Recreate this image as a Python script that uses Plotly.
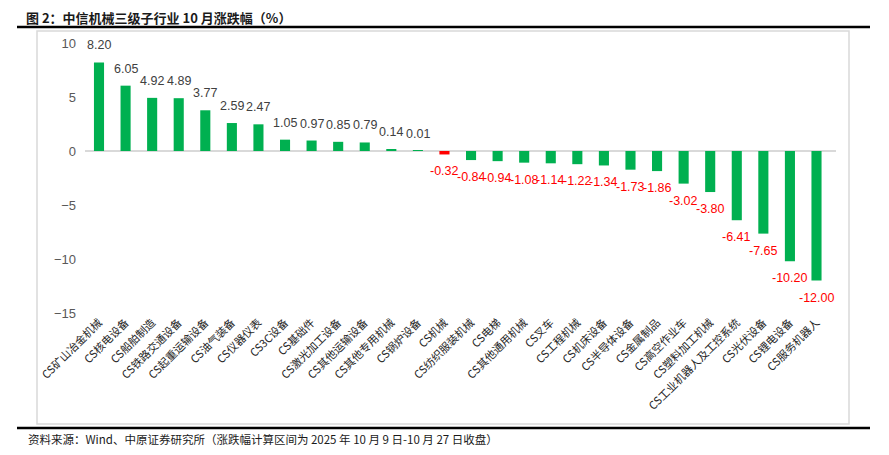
import plotly.graph_objects as go

categories = ["CS矿山冶金机械", "CS核电设备", "CS船舶制造", "CS铁路交通设备", "CS起重运输设备",
              "CS油气装备", "CS仪器仪表", "CS3C设备", "CS基础件", "CS激光加工设备",
              "CS其他运输设备", "CS其他专用机械", "CS锅炉设备", "CS机械", "CS纺织服装机械",
              "CS电梯", "CS其他通用机械", "CS叉车", "CS工程机械", "CS机床设备",
              "CS半导体设备", "CS金属制品", "CS高空作业车", "CS塑料加工机械",
              "CS工业机器人及工控系统", "CS光伏设备", "CS锂电设备", "CS服务机器人"]
values = [8.20, 6.05, 4.92, 4.89, 3.77, 2.59, 2.47, 1.05, 0.97, 0.85,
          0.79, 0.14, 0.01, -0.32, -0.84, -0.94, -1.08, -1.14, -1.22, -1.34,
          -1.73, -1.86, -3.02, -3.80, -6.41, -7.65, -10.20, -12.00]
y_ticks = [-15, -10, -5, 0, 5, 10]

GREEN = "#00B050"
RED = "#FF0000"
bar_colors = [RED if c == "CS机械" else GREEN for c in categories]
text_colors = ["#404040" if v >= 0 else RED for v in values]

# page body has an 8px margin; work in screen pixels and subtract it
OFF = 8
W, H = 889 - 2 * OFF, 455 - 2 * OFF
L, R, T, B = 85 - OFF, 836 - OFF, 43 - OFF, 313 - OFF


def px(x):
    return (x - OFF - L) / (R - L)


def py(y):
    return (B - (y - OFF)) / (B - T)


fig = go.Figure()
fig.add_trace(go.Bar(
    x=categories, y=values,
    marker=dict(color=bar_colors, line=dict(width=0)),
    width=0.38,
    hovertemplate="%{x}: %{y:.2f}<extra></extra>",
))

shapes = [
    dict(type="rect", xref="paper", yref="paper", x0=px(37), x1=px(849), y0=py(31), y1=py(424),
         line=dict(color="#D9D9D9", width=1.5), fillcolor="rgba(0,0,0,0)", layer="below"),
    dict(type="line", xref="paper", yref="paper", x0=px(17), x1=px(870), y0=py(27), y1=py(27),
         line=dict(color="#000000", width=2.5)),
    dict(type="line", xref="paper", yref="paper", x0=px(17), x1=px(870), y0=py(428), y1=py(428),
         line=dict(color="#000000", width=2.5)),
]

annotations = [
    dict(text="<b>图 2：中信机械三级子行业 10 月涨跌幅（%）</b>", xref="paper", yref="paper",
         x=px(24), y=py(17.5), xanchor="left", yanchor="middle", showarrow=False,
         font=dict(size=13, color="#1a1a1a", family="Noto Sans CJK SC")),
    dict(text="资料来源：Wind、中原证券研究所（涨跌幅计算区间为 2025 年 10 月 9 日-10 月 27 日收盘）",
         xref="paper", yref="paper", x=px(26), y=py(439), xanchor="left", yanchor="middle",
         showarrow=False, font=dict(size=11.5, color="#1a1a1a", family="Noto Sans CJK SC")),
]

for c, v, tc in zip(categories, values, text_colors):
    annotations.append(dict(
        x=c, y=v, xref="x", yref="y", text=f"{v:.2f}", showarrow=False,
        xanchor="center", yanchor="middle", yshift=17 if v >= 0 else -17,
        font=dict(size=12.5, color=tc, family="Liberation Sans, Noto Sans CJK SC"),
    ))

fig.update_layout(
    width=W, height=H,
    margin=dict(l=L, r=W - R, t=T, b=H - B, autoexpand=False),
    paper_bgcolor="white", plot_bgcolor="white",
    showlegend=False,
    shapes=shapes, annotations=annotations,
    font=dict(family="Liberation Sans, Noto Sans CJK SC"),
)
fig.update_xaxes(
    tickangle=-45, automargin=False, showgrid=False, showline=False, ticks="",
    tickfont=dict(size=11, color="#262626", family="Noto Sans CJK SC"),
)
fig.update_yaxes(
    range=[-15, 10], tickvals=y_ticks, showgrid=False, zeroline=True,
    zerolinecolor="#D9D9D9", zerolinewidth=1.5, showline=False, ticks="",
    automargin=False, ticklabelstandoff=8,
    tickfont=dict(size=13, color="#595959", family="Liberation Sans"),
)

fig.write_html("out.html")
